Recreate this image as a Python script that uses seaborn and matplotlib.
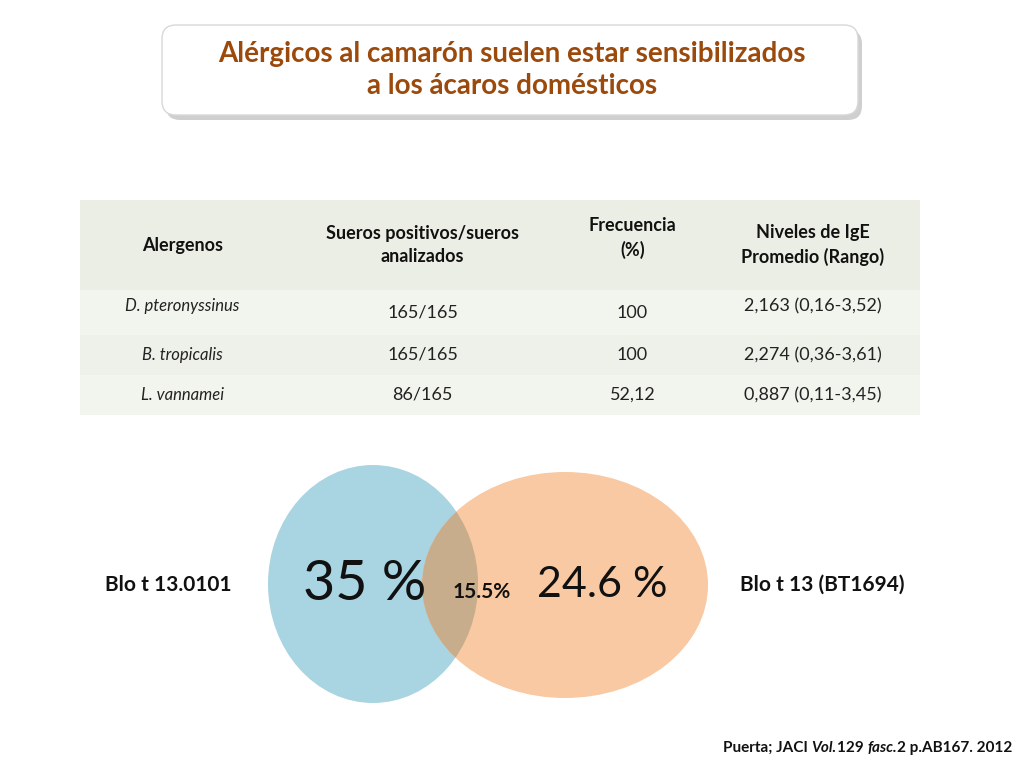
import matplotlib
matplotlib.use("Agg")
import matplotlib.pyplot as plt
from matplotlib.patches import FancyBboxPatch, Ellipse, Rectangle
import seaborn as sns

sns.set_theme(style="white", font="Lato")

TITLE = "Alérgicos al camarón suelen estar sensibilizados\na los ácaros domésticos"
HEADERS = ["Alergenos", "Sueros positivos/sueros\nanalizados", "Frecuencia\n(%)",
           "Niveles de IgE\nPromedio (Rango)"]
ALLERGENS = ["D. pteronyssinus", "B. tropicalis", "L. vannamei"]
POSITIVES = ["165/165", "165/165", "86/165"]
FREQUENCY = ["100", "100", "52,12"]
IGE_LEVELS = ["2,163 (0,16-3,52)", "2,274 (0,36-3,61)", "0,887 (0,11-3,45)"]
VENN_LABELS = ["Blo t 13.0101", "Blo t 13 (BT1694)"]
VENN_VALUES = ["35 %", "15.5%", "24.6 %"]
SOURCE = [("Puerta; JACI ", "normal"), ("Vol.", "italic"), ("129 ", "normal"),
          ("fasc.", "italic"), ("2 p.AB167. 2012", "normal")]

BROWN = "#9B4A0C"

fig = plt.figure(figsize=(10.24, 7.68), dpi=100)
ax = fig.add_axes([0, 0, 1, 1])
ax.set_xlim(0, 1024)
ax.set_ylim(768, 0)
ax.axis("off")

# title box with shadow
ax.add_patch(FancyBboxPatch((166, 30), 696, 90, boxstyle="round,pad=0,rounding_size=14",
                            fc="#b0b0b0", ec="none", alpha=0.6))
ax.add_patch(FancyBboxPatch((162, 25), 696, 90, boxstyle="round,pad=0,rounding_size=14",
                            fc="white", ec="#d8d8d8", lw=1))
ax.text(512, 70, TITLE, ha="center", va="center", fontsize=20, fontweight="bold",
        color=BROWN, linespacing=1.3)

# table
col_edges = [80, 285, 560, 705, 920]
ax.add_patch(Rectangle((80, 200), 840, 90, fc="#EBEEE4", ec="none"))
for c, h in enumerate(HEADERS):
    xc = (col_edges[c] + col_edges[c + 1]) / 2
    yc = 245 if c != 2 else 238
    ax.text(xc, yc, h, ha="center", va="center", fontsize=13, fontweight="bold",
            color="#111111", linespacing=1.4)
row_tops = [290, 335, 375]
row_bots = [335, 375, 415]
for r in range(len(ALLERGENS)):
    ax.add_patch(Rectangle((80, row_tops[r]), 840, row_bots[r] - row_tops[r],
                           fc="#F2F4EE" if r % 2 == 0 else "#EEF1E9", ec="none"))
    yc = (row_tops[r] + row_bots[r]) / 2
    vals = [ALLERGENS[r], POSITIVES[r], FREQUENCY[r], IGE_LEVELS[r]]
    for c, v in enumerate(vals):
        xc = (col_edges[c] + col_edges[c + 1]) / 2
        ax.text(xc, yc - (6 if c in (0, 3) and r == 0 else 0), v, ha="center", va="center",
                fontsize=13 if c else 12, style="italic" if c == 0 else "normal", color="#222222")

# venn
left = Ellipse((373, 584), 210, 238, fc="#A9D4E2", ec="none")
right = Ellipse((565, 585), 286, 226, fc="#F8C9A2", ec="none")
ax.add_patch(left)
ax.add_patch(right)
inter = Ellipse((373, 584), 210, 238, fc="#C8AD8C", ec="none")
ax.add_patch(inter)
inter.set_clip_path(right)

ax.text(365, 585, VENN_VALUES[0], ha="center", va="center", fontsize=40, color="#111111")
ax.text(482, 592, VENN_VALUES[1], ha="center", va="center", fontsize=15, fontweight="bold",
        color="#111111")
ax.text(602, 585, VENN_VALUES[2], ha="center", va="center", fontsize=31, color="#111111")
ax.text(168, 585, VENN_LABELS[0], ha="center", va="center", fontsize=15, fontweight="bold",
        color="#111111")
ax.text(822, 585, VENN_LABELS[1], ha="center", va="center", fontsize=15, fontweight="bold",
        color="#111111")

# source line, right aligned, mixed italic
fig.canvas.draw()
renderer = fig.canvas.get_renderer()
widths = []
for s, st in SOURCE:
    t = ax.text(0, 0, s, fontsize=11, fontweight="bold", style=st)
    widths.append(t.get_window_extent(renderer).width)
    t.remove()
x = 1012 - sum(widths)
for (s, st), w in zip(SOURCE, widths):
    ax.text(x, 748, s, ha="left", va="center", fontsize=11, fontweight="bold", style=st,
            color="#111111")
    x += w

fig.savefig("out.png", dpi=100)
